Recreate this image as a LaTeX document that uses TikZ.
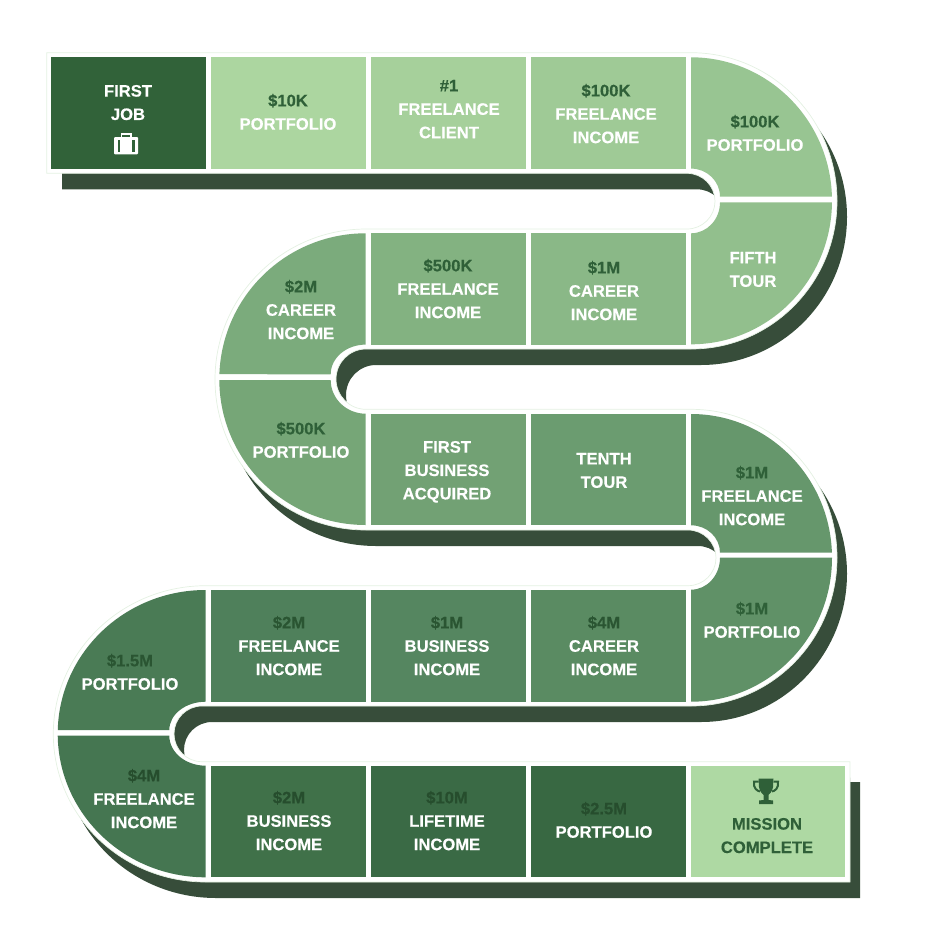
\documentclass[tikz,border=0pt]{standalone}
\usepackage{fontspec}
\setmainfont{Liberation Sans}[BoldFeatures={FakeBold=0.35}]
\definecolor{shad}{HTML}{374D3A}
\definecolor{pale}{HTML}{E4F1E2}
\definecolor{ink}{HTML}{2F6038}
\definecolor{inkb}{HTML}{2A5532}
\definecolor{inkc}{HTML}{264D2D}
\definecolor{ca}{HTML}{316239}\definecolor{cb}{HTML}{ACD6A0}\definecolor{cc}{HTML}{A6D09B}
\definecolor{cd}{HTML}{9FCA96}\definecolor{ce}{HTML}{98C592}\definecolor{cf}{HTML}{92BF8D}
\definecolor{cg}{HTML}{8AB887}\definecolor{ch}{HTML}{83B281}\definecolor{ci}{HTML}{7BAB7C}
\definecolor{cj}{HTML}{76A677}\definecolor{ck}{HTML}{72A174}\definecolor{cl}{HTML}{6B9C70}
\definecolor{cmm}{HTML}{66976C}\definecolor{cn}{HTML}{609167}\definecolor{co}{HTML}{5A8B62}
\definecolor{cp}{HTML}{558660}\definecolor{cq}{HTML}{4F805B}\definecolor{cr}{HTML}{4A7B55}
\definecolor{cs}{HTML}{457651}\definecolor{ct}{HTML}{407149}\definecolor{cu}{HTML}{3A6A45}
\definecolor{cv}{HTML}{386842}\definecolor{cw}{HTML}{AED9A3}
\newcommand{\snake}{(46.7,52.7) -- (691,52.7)
  arc[start angle=90,end angle=-90,x radius=146pt,y radius=148.15pt] -- (366,349)
  arc[start angle=90,end angle=270,x radius=30pt,y radius=30.15pt] -- (691,409.3)
  arc[start angle=90,end angle=-90,x radius=146pt,y radius=148.35pt] -- (202,706)
  arc[start angle=90,end angle=270,x radius=28pt,y radius=27.85pt] -- (850,761.7) -- (850,882) -- (206,882)
  arc[start angle=270,end angle=90,x radius=152.7pt,y radius=148.15pt] -- (688,585.7)
  arc[start angle=-90,end angle=90,x radius=28pt,y radius=27.85pt] -- (366,530)
  arc[start angle=270,end angle=90,x radius=151pt,y radius=150.5pt] -- (687,229)
  arc[start angle=-90,end angle=90,x radius=28pt,y radius=27.85pt] -- (46.7,173.3) -- cycle}
\newcommand{\cell}[5]{\fill[fill=#5] (#1,#2) rectangle (#3,#4);}
\tikzset{lbl/.style={anchor=north,inner sep=0pt,outer sep=0pt,align=center,text=white,yshift=6pt,
  execute at begin node={\rule{0pt}{14pt}},
  font=\fontsize{16.6}{23.4}\selectfont\bfseries}}
\newcommand{\dk}[1]{\textcolor{ink}{#1}}
\newcommand{\dkb}[1]{\textcolor{inkb}{#1}}
\newcommand{\dkc}[1]{\textcolor{inkc}{#1}}
\begin{document}
\begin{tikzpicture}[x=1pt,y=-1pt]
\useasboundingbox (0,0) rectangle (932,942);
% shadow
\begin{scope}
\clip (62,0) -- (850,0) -- (850,782) -- (932,782) -- (932,942) -- (62,942) -- cycle;
\begin{scope}[shift={(10,16)}]
\fill[fill=shad] \snake;
\end{scope}
\end{scope}
% white band
\filldraw[fill=white,draw=pale,line width=0.7pt] \snake;
% straight cells
\cell{51.3}{57.3}{205.7}{168.6}{ca}
\cell{211}{57.3}{365.7}{168.6}{cb}
\cell{371}{57.3}{526}{168.6}{cc}
\cell{530.5}{57.3}{685.7}{168.6}{cd}
\cell{530.5}{233.3}{685.7}{344.6}{cg}
\cell{371}{233.3}{526}{344.6}{ch}
\cell{371}{414}{526}{525.3}{ck}
\cell{530.5}{414}{685.7}{525.3}{cl}
\cell{530.5}{590}{685.7}{701.5}{co}
\cell{371}{590}{526}{701.5}{cp}
\cell{211}{590}{365.7}{701.5}{cq}
\cell{211}{766}{365.7}{877.3}{ct}
\cell{371}{766}{526}{877.3}{cu}
\cell{530.5}{766}{685.7}{877.3}{cv}
\cell{691}{766}{845}{877.3}{cw}
% turn 1
\fill[fill=ce] (691,57.3) arc[start angle=90,end angle=1.64,x radius=141pt,y radius=143.5pt] -- (720,196.7)
  arc[start angle=0,end angle=90,x radius=29pt,y radius=28.1pt] -- cycle;
\fill[fill=cf] (691,344.3) arc[start angle=-90,end angle=-0.6,x radius=141pt,y radius=143.5pt] -- (720,202.3)
  arc[start angle=0,end angle=-90,x radius=29pt,y radius=31pt] -- cycle;
% turn 2
\fill[fill=ci] (365.7,233.3) arc[start angle=90,end angle=178,x radius=146.4pt,y radius=146pt] -- (330.7,374.3)
  arc[start angle=180,end angle=90,x radius=35pt,y radius=29.7pt] -- cycle;
\fill[fill=cj] (365.7,525) arc[start angle=-90,end angle=-179.7,x radius=146.4pt,y radius=145.7pt] -- (330.7,380)
  arc[start angle=180,end angle=270,x radius=35pt,y radius=33.7pt] -- cycle;
% turn 3
\fill[fill=cmm] (691,414) arc[start angle=90,end angle=2.05,x radius=141pt,y radius=143.8pt] -- (720,552.7)
  arc[start angle=0,end angle=90,x radius=29pt,y radius=27.4pt] -- cycle;
\fill[fill=cn] (691,701.7) arc[start angle=-90,end angle=0,x radius=141pt,y radius=144pt] -- (720,557.7)
  arc[start angle=0,end angle=-90,x radius=29pt,y radius=32pt] -- cycle;
% turn 4
\fill[fill=cr] (205.7,590) arc[start angle=90,end angle=178.55,x radius=148pt,y radius=143.7pt] -- (169.3,730)
  arc[start angle=180,end angle=90,x radius=36.4pt,y radius=28.3pt] -- cycle;
\fill[fill=cs] (205.7,877.3) arc[start angle=-90,end angle=-179.2,x radius=148pt,y radius=143.7pt] -- (169.3,735.7)
  arc[start angle=180,end angle=270,x radius=36.4pt,y radius=30pt] -- cycle;
% labels
\node[lbl] (n1) at (128,91) {FIRST\\JOB};
\node[lbl] (n2) at (288,100) {\dk{\$10K}\\PORTFOLIO};
\node[lbl] (n3) at (449,86) {\dk{\#1}\\FREELANCE\\CLIENT};
\node[lbl] (n4) at (606,90) {\dk{\$100K}\\FREELANCE\\INCOME};
\node[lbl] (n5) at (755,121) {\dk{\$100K}\\PORTFOLIO};
\node[lbl] (n6) at (753,258) {FIFTH\\TOUR};
\node[lbl] (n7) at (604,267) {\dk{\$1M}\\CAREER\\INCOME};
\node[lbl] (n8) at (448,265) {\dk{\$500K}\\FREELANCE\\INCOME};
\node[lbl] (n9) at (301,286) {\dk{\$2M}\\CAREER\\INCOME};
\node[lbl] (n10) at (301,428) {\dk{\$500K}\\PORTFOLIO};
\node[lbl] (n11) at (447,447) {FIRST\\BUSINESS\\ACQUIRED};
\node[lbl] (n12) at (604,459) {TENTH\\TOUR};
\node[lbl] (n13) at (752,472) {\dk{\$1M}\\FREELANCE\\INCOME};
\node[lbl] (n14) at (752,608) {\dk{\$1M}\\PORTFOLIO};
\node[lbl] (n15) at (604,622) {\dkb{\$4M}\\CAREER\\INCOME};
\node[lbl] (n16) at (447,622) {\dkb{\$1M}\\BUSINESS\\INCOME};
\node[lbl] (n17) at (289,622) {\dkb{\$2M}\\FREELANCE\\INCOME};
\node[lbl] (n18) at (130,660) {\dkb{\$1.5M}\\PORTFOLIO};
\node[lbl] (n19) at (144,775) {\dkc{\$4M}\\FREELANCE\\INCOME};
\node[lbl] (n20) at (289,797) {\dkc{\$2M}\\BUSINESS\\INCOME};
\node[lbl] (n21) at (447,797) {\dkc{\$10M}\\LIFETIME\\INCOME};
\node[lbl] (n22) at (604,808) {\dkc{\$2.5M}\\PORTFOLIO};
\node[lbl,text=ink] (n23) at (767,824) {MISSION\\COMPLETE};
% briefcase
\fill[fill=white,rounded corners=1pt] (114,137) rectangle (138,154.3);
\draw[draw=white,line width=1.6pt] (121.3,137.5) -- (121.3,134.2) -- (130.7,134.2) -- (130.7,137.5);
\fill[fill=ca] (117.5,139.5) rectangle (119.6,152);
\fill[fill=ca] (132.4,139.5) rectangle (134.5,152);
% trophy
\fill[fill=ink] (758.5,778.5) -- (773.5,778.5) -- (773,787) .. controls (772.5,792) and (769,794) .. (768.5,795) -- (768.5,800) -- (773,800.5) -- (773,804) -- (759,804) -- (759,800.5) -- (763.5,800) -- (763.5,795) .. controls (763,794) and (759.5,792) .. (759,787) -- cycle;
\draw[draw=ink,line width=2pt] (758.5,781.5) -- (754,781.5) .. controls (753,788) and (757,791) .. (760,791.5);
\draw[draw=ink,line width=2pt] (773.5,781.5) -- (778,781.5) .. controls (779,788) and (775,791) .. (772,791.5);
\end{tikzpicture}
\end{document}
